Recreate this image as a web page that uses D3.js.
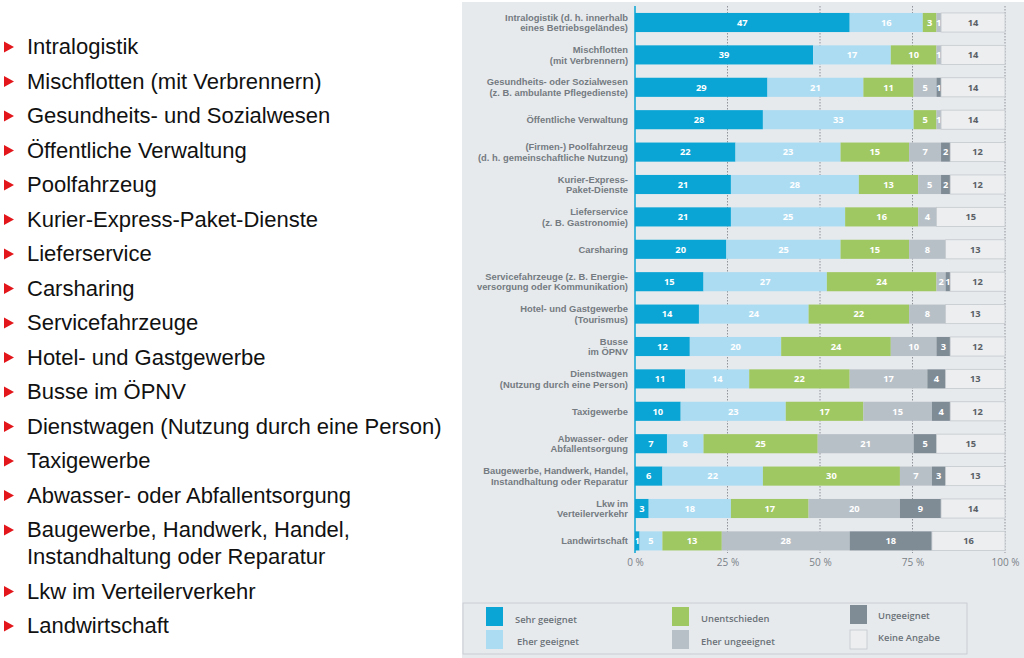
<!DOCTYPE html>
<html><head><meta charset="utf-8">
<script src="https://cdn.jsdelivr.net/npm/d3@7"></script>
<style>
html,body{margin:0;padding:0;background:#fff;}
svg{display:block;}
</style></head>
<body>
<svg id="c" width="1024" height="658"></svg>
<script>
// ---- data ----
const bulletItems = [
  ["Intralogistik"],
  ["Mischflotten (mit Verbrennern)"],
  ["Gesundheits- und Sozialwesen"],
  ["Öffentliche Verwaltung"],
  ["Poolfahrzeug"],
  ["Kurier-Express-Paket-Dienste"],
  ["Lieferservice"],
  ["Carsharing"],
  ["Servicefahrzeuge"],
  ["Hotel- und Gastgewerbe"],
  ["Busse im ÖPNV"],
  ["Dienstwagen (Nutzung durch eine Person)"],
  ["Taxigewerbe"],
  ["Abwasser- oder Abfallentsorgung"],
  ["Baugewerbe, Handwerk, Handel,", "Instandhaltung oder Reparatur"],
  ["Lkw im Verteilerverkehr"],
  ["Landwirtschaft"]
];
const categories = [
  ["Intralogistik (d. h. innerhalb", "eines Betriebsgeländes)"],
  ["Mischflotten", "(mit Verbrennern)"],
  ["Gesundheits- oder Sozialwesen", "(z. B. ambulante Pflegedienste)"],
  ["Öffentliche Verwaltung"],
  ["(Firmen-) Poolfahrzeug", "(d. h. gemeinschaftliche Nutzung)"],
  ["Kurier-Express-", "Paket-Dienste"],
  ["Lieferservice", "(z. B. Gastronomie)"],
  ["Carsharing"],
  ["Servicefahrzeuge (z. B. Energie-", "versorgung oder Kommunikation)"],
  ["Hotel- und Gastgewerbe", "(Tourismus)"],
  ["Busse", "im ÖPNV"],
  ["Dienstwagen", "(Nutzung durch eine Person)"],
  ["Taxigewerbe"],
  ["Abwasser- oder", "Abfallentsorgung"],
  ["Baugewerbe, Handwerk, Handel,", "Instandhaltung oder Reparatur"],
  ["Lkw im", "Verteilerverkehr"],
  ["Landwirtschaft"]
];
const sehrGeeignet    = [47,39,29,28,22,21,21,20,15,14,12,11,10,7,6,3,1];
const eherGeeignet    = [16,17,21,33,23,28,25,25,27,24,20,14,23,8,22,18,5];
const unentschieden   = [3,10,11,5,15,13,16,15,24,22,24,22,17,25,30,17,13];
const eherUngeeignet  = [1,1,5,1,7,5,4,8,2,8,10,17,15,21,7,20,28];
const ungeeignet      = [0,0,1,0,2,2,0,0,1,0,3,4,4,5,3,9,18];
const keineAngabe     = [14,14,14,14,12,12,15,13,12,13,12,13,12,15,13,14,16];
const seriesKeys  = ["sehr","eher","unent","eherUn","ungeeignet","keine"];
const seriesNames = ["Sehr geeignet","Eher geeignet","Unentschieden","Eher ungeeignet","Ungeeignet","Keine Angabe"];
const tickValues  = [0, 0.25, 0.5, 0.75, 1];
const tickLabels  = ["0 %","25 %","50 %","75 %","100 %"];

// ---- styles ----
const colors = {sehr:"#0aa5d5", eher:"#acdcf2", unent:"#9fc862", eherUn:"#b8c0c7", ungeeignet:"#7f8b95", keine:"#eceef0"};
const panelBg = "#e7eaed";
const labelColor = "#6b7379";
const font = "'Open Sans', 'DejaVu Sans', sans-serif";
const catFont = "'Liberation Sans', Arial, sans-serif";

const svg = d3.select("#c");

// left bullet list
const listG = svg.append("g");
let yb = 54;
bulletItems.forEach((lines) => {
  listG.append("path")
    .attr("d", `M4,${yb-12.5} L14,${yb-7} L4,${yb-1.5} Z`)
    .attr("fill", "#e2161b");
  const t = listG.append("text")
    .attr("x", 27).attr("y", yb)
    .attr("font-family", "'Liberation Sans', Arial, sans-serif")
    .attr("font-size", 22).attr("fill", "#111");
  lines.forEach((s, j) => {
    t.append("tspan").attr("x", 27).attr("dy", j === 0 ? 0 : 27).text(s);
  });
  yb += 34.5 + (lines.length - 1) * 27;
});

// panel
svg.append("rect").attr("x", 462).attr("y", 2).attr("width", 562).attr("height", 656).attr("fill", panelBg);

// data table
const rows = categories.map((c, i) => ({
  i, sehr: sehrGeeignet[i], eher: eherGeeignet[i], unent: unentschieden[i],
  eherUn: eherUngeeignet[i], ungeeignet: ungeeignet[i], keine: keineAngabe[i]
}));
const stacked = d3.stack().keys(seriesKeys).offset(d3.stackOffsetExpand)(rows);

const x = d3.scaleLinear().domain([0, 1]).range([635, 1005]);
const y = d3.scaleBand().domain(d3.range(categories.length)).range([6.3, 557.1]).paddingInner(0.41).paddingOuter(0.205);

// gridlines
svg.append("g").selectAll("line").data(tickValues.slice(1)).join("line")
  .attr("x1", d => x(d)).attr("x2", d => x(d))
  .attr("y1", 6).attr("y2", 553)
  .attr("stroke", "#858b91").attr("stroke-width", 0.9).attr("stroke-dasharray", "1.5,1.5");

// bars
const segG = svg.append("g");
stacked.forEach(layer => {
  const key = layer.key;
  const g = segG.append("g");
  g.selectAll("rect").data(layer).join("rect")
    .attr("x", d => x(d[0]))
    .attr("y", (d, i) => y(i))
    .attr("width", d => Math.max(0, x(d[1]) - x(d[0])))
    .attr("height", y.bandwidth())
    .attr("fill", colors[key])
    .attr("stroke", key === "keine" ? "#c4c9ce" : "none")
    .attr("stroke-width", key === "keine" ? 0.8 : 0);
  g.selectAll("text").data(layer.filter(d => d.data[key] > 0)).join("text")
    .attr("x", d => (x(d[0]) + x(d[1])) / 2)
    .attr("y", d => y(d.data.i) + y.bandwidth() / 2 + 3.3)
    .attr("text-anchor", "middle")
    .attr("font-family", font).attr("font-weight", 700).attr("font-size", 9.3)
    .attr("fill", key === "keine" ? "#5a6066" : "#ffffff")
    .text(d => d.data[key]);
});

// axis line
svg.append("line").attr("x1", x(0)).attr("x2", x(0)).attr("y1", 6).attr("y2", 553)
  .attr("stroke", colors.sehr).attr("stroke-width", 1.5);

// category labels
const catG = svg.append("g");
const lineGap = 10.6;
categories.forEach((lines, i) => {
  const cy = y(i) + y.bandwidth() / 2;
  const n = lines.length;
  lines.forEach((s, j) => {
    catG.append("text")
      .attr("x", 628)
      .attr("y", cy + 3.3 + (j - (n - 1) / 2) * lineGap)
      .attr("text-anchor", "end")
      .attr("font-family", catFont).attr("font-weight", 700).attr("font-size", 9.4)
      .attr("fill", "#747b81")
      .text(s);
  });
});

// x axis
const axis = d3.axisBottom(x).tickValues(tickValues).tickFormat((d, i) => tickLabels[i]).tickSize(0).tickPadding(0);
const ax = svg.append("g").attr("transform", "translate(0,557)").call(axis);
ax.select(".domain").remove();
ax.selectAll("text").attr("font-family", font).attr("font-size", 10).attr("fill", "#7a8187").attr("dy", "0.85em");

// legend
const lg = svg.append("g");
lg.append("rect").attr("x", 463).attr("y", 603).attr("width", 504).attr("height", 51)
  .attr("fill", panelBg).attr("stroke", "#c3c8cd").attr("stroke-width", 0.8);
const legendPos = [
  {sx:486, sy:607, tx:515, ty:623},
  {sx:486, sy:630, tx:517, ty:645},
  {sx:672, sy:607, tx:701, ty:622},
  {sx:672, sy:630, tx:701, ty:645},
  {sx:850, sy:605, tx:878, ty:619},
  {sx:850, sy:630, tx:878, ty:641}
];
seriesKeys.forEach((k, i) => {
  const p = legendPos[i];
  lg.append("rect").attr("x", p.sx).attr("y", p.sy).attr("width", 17).attr("height", 19)
    .attr("fill", colors[k]).attr("stroke", k === "keine" ? "#c4c9ce" : "none").attr("stroke-width", 0.8);
  lg.append("text").attr("x", p.tx).attr("y", p.ty)
    .attr("font-family", font).attr("font-weight", 600).attr("font-size", 9.4)
    .attr("fill", labelColor).text(seriesNames[i]);
});
</script>
</body></html>
